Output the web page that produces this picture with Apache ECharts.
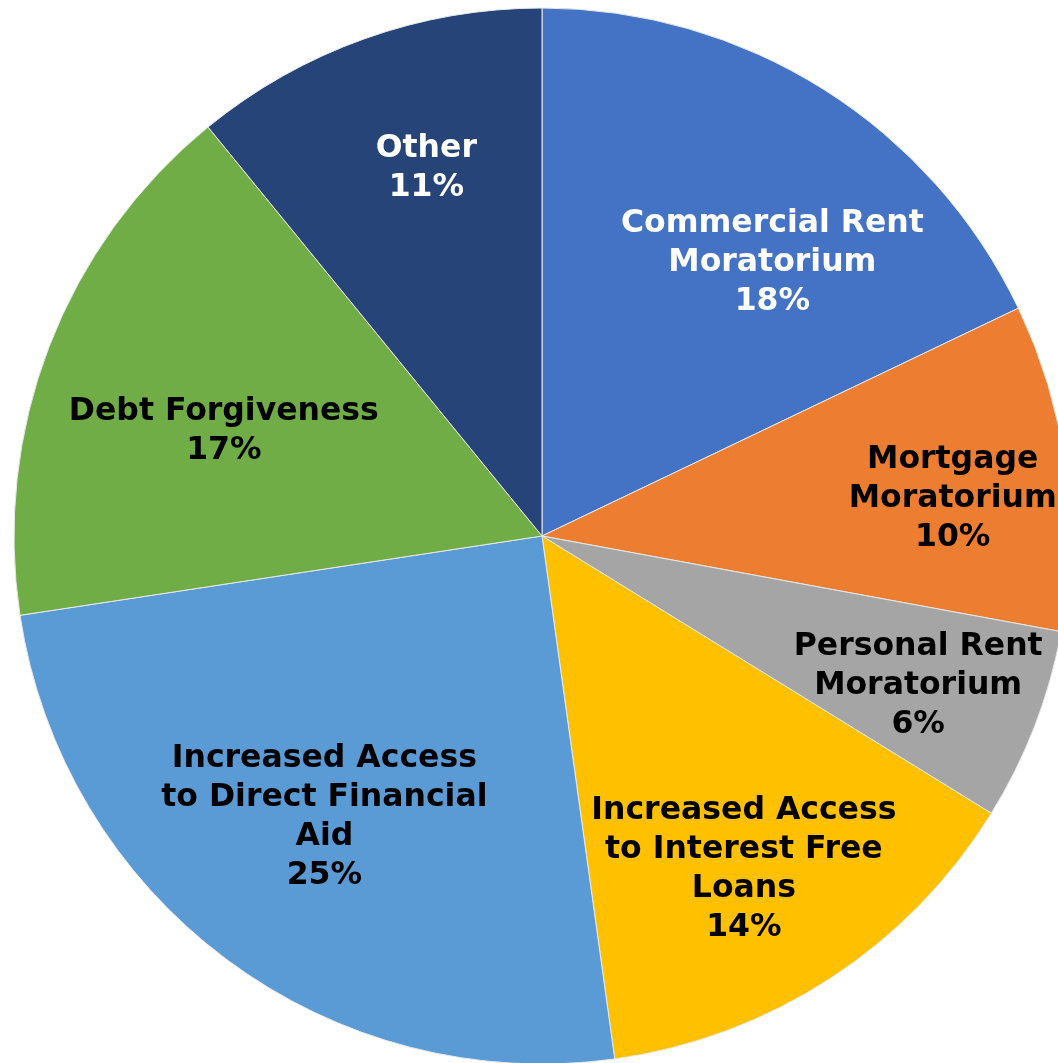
<!DOCTYPE html>
<html><head><meta charset="utf-8">
<script src="https://cdn.jsdelivr.net/npm/echarts@6/dist/echarts.min.js"></script>
<style>html,body{margin:0;padding:0;background:#fff}#c{width:1058px;height:1063px}</style>
</head><body><div id="c"></div>
<script>
const categories = [
  'Commercial Rent\nMoratorium',
  'Mortgage\nMoratorium',
  'Personal Rent\nMoratorium',
  'Increased Access\nto Interest Free\nLoans',
  'Increased Access\nto Direct Financial\nAid',
  'Debt Forgiveness',
  'Other'
];
const values = [17.9, 10.0, 5.9, 14.0, 24.8, 16.5, 10.9];

const colors = ['#4472C4', '#ED7D31', '#A5A5A5', '#FFC000', '#5B9BD5', '#70AD47', '#264478'];
const labelColors = ['#fff', '#000', '#000', '#000', '#000', '#000', '#fff'];
const labelOffsets = [[88, -47], [146, -2], [127, 54], [56, 110], [-58, 67], [-69, -9], [-26, -116]];

const chart = echarts.init(document.getElementById('c'));
chart.setOption({
  animation: false,
  series: [{
    type: 'pie',
    center: [542, 536],
    radius: [0, 528],
    startAngle: 90,
    clockwise: true,
    avoidLabelOverlap: false,
    itemStyle: { borderColor: '#e8e8e8', borderWidth: 1 },
    label: {
      position: 'inside',
      fontFamily: 'DejaVu Sans',
      fontWeight: 'bold',
      fontSize: 31.5,
      lineHeight: 39,
      align: 'center',
      formatter: p => p.name + '\n' + Math.round(p.value) + '%'
    },
    labelLine: { show: false },
    emphasis: { disabled: true },
    data: categories.map((n, i) => ({
      name: n,
      value: values[i],
      itemStyle: { color: colors[i] },
      label: { color: labelColors[i], offset: labelOffsets[i] }
    }))
  }]
});
</script></body></html>
